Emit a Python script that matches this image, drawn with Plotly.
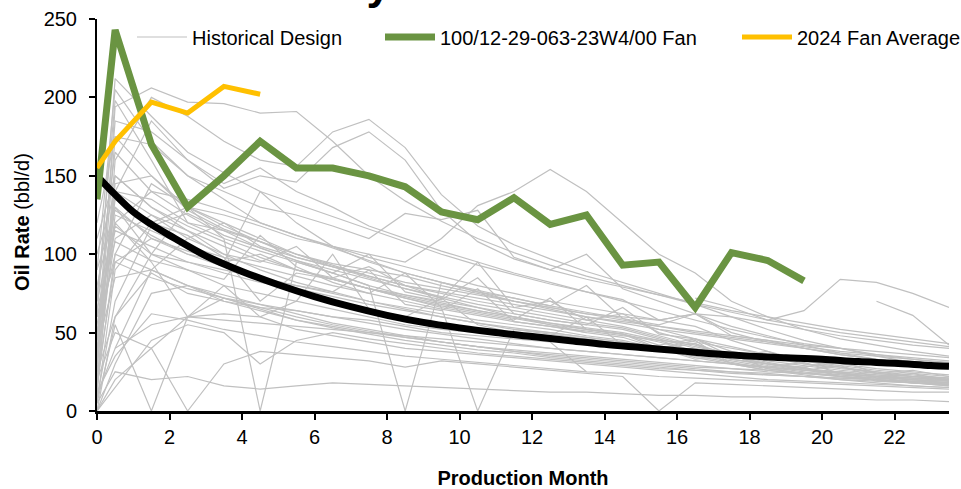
import plotly.graph_objects as go

# Production months (first reading at 0, then mid-month readings)
MONTHS = [0, 0.5, 1.5, 2.5, 3.5, 4.5, 5.5, 6.5, 7.5, 8.5, 9.5, 10.5, 11.5,
          12.5, 13.5, 14.5, 15.5, 16.5, 17.5, 18.5, 19.5, 20.5, 21.5, 22.5, 23.5]

N = None

# Historical design wells, oil rate (bbl/d) by production month
HISTORICAL = [
    [60, 212, 188, 165, 152, 140, 132, 124, 116, 108, 100, 93, 87, 81, 76, 70, 64, 58, 52, 47, 43, 40, 36, 33, 30],
    [30, 194, 206, 197, 196, 190, 191, 172, 150, 134, 121, 110, 101, 93, 86, 80, 74, 68, 63, 58, 54, 50, 47, 44, 41],
    [15, 160, 200, 188, 172, 160, 156, 178, 186, 168, 138, 118, 106, 97, 89, 82, 75, 68, 60, 52, 45, 40, 35, 31, 28],
    [45, 185, 178, 160, 142, 150, 146, 168, 178, 160, 128, 108, 97, 90, 100, 78, 70, 62, 54, 48, 42, 37, 33, 30, 27],
    [90, 205, 172, 150, 135, 120, 112, 104, 96, 88, 82, 77, 72, 67, 63, 59, 52, 46, 41, 36, 32, 29, 26, 24, 22],
    [120, 175, 170, 150, 140, 130, 125, 118, 110, 126, 122, 128, 98, 90, 84, 79, 74, 69, 64, 60, 56, 52, 49, 46, 43],
    [10, 140, 185, 160, 145, 155, 140, 130, 118, 110, 102, 95, 88, 82, 76, 71, 58, 62, 50, 44, 40, 36, 33, 30, 28],
    [70, 198, 160, 120, 115, 108, 100, 94, 90, 86, 80, 75, 70, 66, 62, 58, 54, 50, 47, 44, 41, 38, 36, 34, 32],
    [20, 120, 140, 135, 128, 120, 112, 105, 98, 92, 86, 80, 75, 70, 66, 62, 58, 54, 45, 38, 32, 28, 25, 22, 20],
    [5, 90, 120, 130, 125, 118, 110, 105, 100, 95, 110, 131, 140, 154, 140, 120, 100, 88, 70, 60, 52, 46, 42, 38, 35],
    [100, 140, 135, 120, 110, 102, 95, 88, 100, 76, 71, 85, 62, 58, 55, 66, 49, 46, 38, 34, 30, 27, 25, 23, 21],
    [35, 110, 125, 115, 105, 96, 90, 84, 78, 73, 68, 64, 60, 56, 53, 50, 45, 38, 33, 30, 27, 25, 23, 21, 19],
    [0, 60, 100, 130, 118, 108, 100, 93, 86, 80, 75, 70, 66, 62, 58, 54, 48, 42, 36, 31, 27, 24, 22, 20, 18],
    [50, 130, 110, 100, 95, 140, 120, 105, 95, 88, 82, 76, 72, 67, 80, 59, 55, 62, 48, 45, 40, 36, 33, 30, 27],
    [25, 150, 130, 115, 100, 90, 82, 76, 70, 65, 60, 56, 52, 49, 46, 43, 40, 36, 32, 28, 25, 22, 20, 18, 16],
    [60, 115, 105, 95, 90, 85, 80, 76, 90, 68, 64, 78, 57, 54, 51, 48, 45, 43, 35, 38, 30, 28, 24, 26, 22],
    [40, 135, 120, 112, 98, 70, 88, 84, 78, 74, 70, 66, 62, 58, 55, 52, 46, 40, 35, 30, 27, 24, 22, 20, 18],
    [15, 100, 145, 130, 110, 0, 95, 88, 80, 74, 69, 64, 60, 56, 52, 49, 44, 38, 33, 29, 26, 23, 21, 19, 17],
    [75, 165, 140, 125, 112, 104, 96, 88, 80, 0, 82, 76, 70, 65, 60, 56, 52, 49, 46, 43, 40, 37, 35, 33, 31],
    [30, 125, 115, 105, 98, 92, 86, 80, 75, 88, 66, 62, 58, 72, 52, 49, 40, 43, 33, 30, 28, 32, 24, 22, 20],
    [8, 70, 118, 126, 115, 104, 96, 90, 84, 78, 73, 68, 64, 60, 56, 53, 47, 41, 36, 32, 29, 26, 24, 22, 21],
    [90, 128, 112, 100, 92, 85, 80, 75, 70, 66, 62, 58, 55, 52, 48, 45, 40, 35, 31, 27, 24, 22, 20, 18, 17],
    [45, 140, 125, 110, 120, 105, 98, 92, 86, 80, 76, 72, 68, 64, 60, 57, 54, 51, 48, 45, 42, 40, 38, 36, 34],
    [20, 95, 110, 102, 95, 100, 90, 85, 78, 72, 67, 63, 59, 55, 52, 49, 42, 46, 35, 30, 26, 29, 21, 24, 19],
    [110, 150, 130, 118, 108, 98, 90, 84, 78, 72, 66, 0, 52, 50, 47, 44, 40, 34, 30, 26, 23, 20, 18, 16, 15],
    [55, 118, 100, 95, 88, 82, 78, 73, 68, 64, 60, 56, 53, 50, 47, 44, 40, 45, 30, 26, 28, 22, 20, 18, 17],
    [35, 145, 150, 128, 116, 108, 98, 92, 88, 82, 78, 74, 70, 66, 62, 60, 58, 62, 60, 56, 52, 48, 45, 42, 40],
    [65, 108, 96, 90, 84, 112, 92, 82, 75, 70, 65, 61, 57, 54, 50, 47, 40, 33, 36, 27, 24, 25, 19, 18, 16],
    [10, 40, 55, 60, 58, 56, 54, 52, 50, 48, 46, 44, 42, 40, 38, 36, 34, 32, 30, 28, 26, 24, 22, 21, 20],
    [0, 30, 75, 80, 70, 64, 58, 54, 50, 47, 44, 41, 39, 37, 35, 33, 31, 29, 27, 26, 24, 22, 21, 20, 19],
    [20, 50, 40, 60, 62, 60, 52, 48, 44, 40, 38, 36, 34, 32, 30, 28, 26, 24, 22, 20, 19, 18, 17, 16, 15],
    [5, 25, 20, 22, 16, 14, 16, 18, 17, 16, 15, 14, 13, 12, 12, 11, 10, 10, 9, 9, 8, 8, 7, 7, 6],
    [40, 85, 90, 80, 74, 68, 62, 56, 52, 48, 44, 41, 38, 35, 33, 31, 29, 27, 25, 24, 22, 21, 20, 19, 18],
    [0, 15, 45, 55, 50, 30, 45, 50, 46, 43, 40, 37, 35, 33, 31, 29, 27, 26, 24, 23, 22, 21, 20, 19, 18],
    [25, 60, 88, 75, 70, 66, 64, 60, 56, 52, 49, 46, 43, 40, 38, 36, 34, 32, 30, 28, 26, 25, 23, 22, 21],
    [5, 55, 0, 60, 72, 65, 58, 53, 49, 45, 42, 39, 37, 34, 32, 30, 28, 26, 25, 23, 22, 20, 19, 18, 17],
    [12, 35, 62, 58, 52, 48, 44, 41, 38, 35, 33, 31, 29, 27, 25, 24, 22, 21, 20, 19, 18, 17, 16, 15, 14],
    [60, 95, 85, 78, 72, 66, 60, 55, 51, 47, 44, 41, 38, 36, 34, 32, 30, 28, 27, 25, 24, 23, 22, 21, 20],
    [30, 175, 150, 130, 120, 110, 100, 92, 85, 78, 72, 66, 60, 55, 50, N, N, N, N, N, N, N, N, N, N],
    [N, N, N, N, N, N, N, N, N, N, N, N, N, N, N, N, N, 72, 66, 58, 64, 84, 82, 75, 66],
    [N, N, N, N, N, N, N, N, N, N, N, N, N, N, N, N, N, N, N, N, N, N, 70, 61, 42],
    [50, 100, 90, 80, 72, 68, 64, 60, 58, 54, 50, 48, 46, 44, 25, N, N, N, N, N, N, N, N, N, N],
    [80, 130, 100, 90, 80, 60, 70, 65, 60, 55, 52, 50, N, N, N, N, N, N, N, N, N, N, N, N, N],
    [0, 20, 40, 0, 30, 38, 36, 34, 32, 28, 32, 30, 28, 26, 24, 22, 0, 18, 17, 16, 15, 14, 13, 12, 12],
    [N, 40, 90, 110, 100, 95, 105, 85, 92, 80, 72, 95, 66, 70, 58, 62, 50, 44, 40, 36, 32, 30, 27, 25, 23],
    [70, 120, 95, 60, 80, 75, 70, 100, 65, 60, 72, 55, 50, 48, 60, 42, 38, 40, 30, 28, 31, 24, 22, 20, 19],
]

# Type curve (bbl/d)
TYPE_MONTHS = [0, 0.5, 1, 1.5, 2, 3, 4, 5, 6, 7, 8, 9, 10, 11, 12, 13, 14, 15,
               16, 17, 18, 19, 20, 21, 22, 23, 23.5]
TYPE_RATE = [150, 138, 127, 119, 112, 99, 89, 80.5, 73, 66.5, 61, 56.5, 53, 50, 47.5,
             45, 42.5, 40.5, 38.5, 36.5, 35, 34, 33, 31.5, 30.5, 29, 28.5]

# Subject well
WELL_NAME = "100/12-29-063-23W4/00 Fan"
WELL_MONTHS = MONTHS[:21]
WELL_RATE = [135, 243, 170, 130, 150, 172, 155, 155, 150, 143, 127, 122, 136,
             119, 125, 93, 95, 66, 101, 96, 83]

# 2024 fan average
AVG_MONTHS = MONTHS[:6]
AVG_RATE = [155, 172, 197, 190, 207, 202]

FONT = "Liberation Sans, Arial, sans-serif"
GREY = "#C0C0C0"
GREEN = "#6A9442"
GOLD = "#FFC000"

fig = go.Figure()

for i, rates in enumerate(HISTORICAL):
    fig.add_trace(go.Scatter(
        x=MONTHS, y=rates, mode="lines",
        line=dict(color=GREY, width=1.2),
        name="Historical Design", legend="legend",
        showlegend=(i == 0), hoverinfo="skip",
    ))

fig.add_trace(go.Scatter(
    x=TYPE_MONTHS, y=TYPE_RATE, mode="lines",
    line=dict(color="#000000", width=7, shape="spline"),
    name="Type Curve", showlegend=False,
))

fig.add_trace(go.Scatter(
    x=WELL_MONTHS, y=WELL_RATE, mode="lines",
    line=dict(color=GREEN, width=7),
    name=WELL_NAME, legend="legend2",
))

fig.add_trace(go.Scatter(
    x=AVG_MONTHS, y=AVG_RATE, mode="lines",
    line=dict(color=GOLD, width=5),
    name="2024 Fan Average", legend="legend3",
))

legend_common = dict(
    orientation="h", yanchor="middle", xanchor="left",
    y=(411 - 37) / 392, bgcolor="rgba(0,0,0,0)", borderwidth=0,
    font=dict(family=FONT, size=20, color="#000000"),
    itemwidth=50,
)

fig.update_layout(
    width=961, height=489,
    margin=dict(l=97, r=12, t=19, b=78, autoexpand=False),
    paper_bgcolor="white", plot_bgcolor="white",
    font=dict(family=FONT, size=20, color="#000000"),
    legend=dict(x=(132 - 97) / 852, **legend_common),
    legend2=dict(x=(380 - 97) / 852, **legend_common),
    legend3=dict(x=(737 - 97) / 852, **legend_common),
    xaxis=dict(
        range=[0, 23.5], dtick=2, tick0=0,
        showgrid=False, zeroline=False,
        showline=True, linecolor="#000000", linewidth=2.5,
        ticks="outside", ticklen=6, tickwidth=1.5, tickcolor="#000000",
        tickfont=dict(family=FONT, size=20),
        title=dict(text="<b>Production Month</b>", font=dict(family=FONT, size=20), standoff=25),
    ),
    yaxis=dict(
        range=[0, 250], dtick=50, tick0=0,
        showgrid=False, zeroline=False,
        showline=True, linecolor="#000000", linewidth=2,
        ticks="outside", ticklen=6, tickwidth=1.5, tickcolor="#000000",
        ticklabelstandoff=8,
        tickfont=dict(family=FONT, size=20),
    ),
    annotations=[
        dict(
            text="<b>Oil Production History</b>",
            xref="paper", yref="paper", x=(393 - 97) / 852, y=1 + (19 - 10) / 392,
            xanchor="right", yanchor="bottom", showarrow=False,
            font=dict(family=FONT, size=44, color="#000000"),
        ),
        dict(
            text="<b>Oil Rate</b> (bbl/d)",
            xref="paper", yref="paper", x=(22 - 97) / 852, y=(411 - 222) / 392,
            xanchor="center", yanchor="middle", textangle=-90, showarrow=False,
            font=dict(family=FONT, size=20, color="#000000"),
        ),
    ],
)

fig.write_html("out.html")
